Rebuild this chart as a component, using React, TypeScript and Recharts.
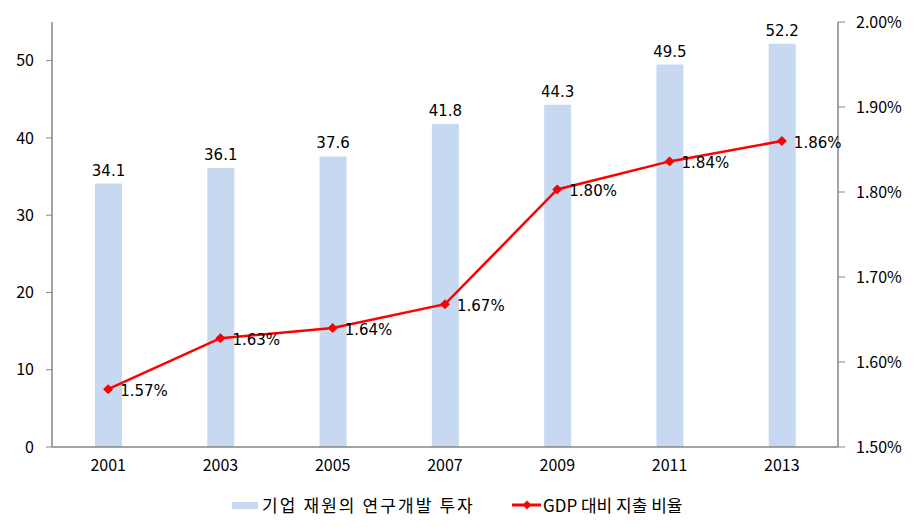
import React from 'react';
import { ComposedChart, Bar, Line, XAxis, YAxis, LabelList } from 'recharts';

const years = ['2001', '2003', '2005', '2007', '2009', '2011', '2013'];
const investment = [34.1, 36.1, 37.6, 41.8, 44.3, 49.5, 52.2];
const gdpRatio = [1.568, 1.628, 1.64, 1.668, 1.803, 1.836, 1.86];
const leftTicks = [0, 10, 20, 30, 40, 50];
const rightTicks = [1.5, 1.6, 1.7, 1.8, 1.9, 2.0];
const barName = '기업 재원의 연구개발 투자';
const lineName = 'GDP 대비 지출 비율';

const data = years.map((y, i) => ({ year: y, inv: investment[i], ratio: gdpRatio[i] }));

const AXIS = '#868686';
const BAR = '#C6D9F1';
const RED = '#FF0000';
const LABEL_FONT = 'DejaVu Sans, Verdana, sans-serif';
const KR_FONT = '"Noto Sans CJK KR", "Noto Sans", sans-serif';

const Diamond = (props: any) => {
  const { cx, cy } = props;
  if (cx == null || cy == null) return null;
  const r = 4.5;
  return (
    <polygon
      points={`${cx},${cy - r} ${cx + r},${cy} ${cx},${cy + r} ${cx - r},${cy}`}
      fill={RED}
      stroke={RED}
    />
  );
};

const LineLabel = (props: any) => {
  const { x, y, value } = props;
  return (
    <text x={x + 12} y={y + 2} fontSize={15} fontFamily={LABEL_FONT} fill="#000" dominantBaseline="central">
      {Number(value).toFixed(2)}%
    </text>
  );
};

const LegendContent = () => (
  <div style={{ position: 'relative', height: 30, fontFamily: KR_FONT, fontSize: 17, color: '#000' }}>
    <div style={{ position: 'absolute', left: 232, top: 10, width: 26, height: 7, background: BAR }} />
    <div style={{ position: 'absolute', left: 262, top: 0, lineHeight: '26px', whiteSpace: 'nowrap', letterSpacing: '2.1px' }}>{barName}</div>
    <svg style={{ position: 'absolute', left: 512, top: 6 }} width={30} height={14}>
      <line x1={0} y1={7} x2={29} y2={7} stroke={RED} strokeWidth={3} />
      <polygon points="15,2.5 19.5,7 15,11.5 10.5,7" fill={RED} />
    </svg>
    <div style={{ position: 'absolute', left: 543, top: 0, lineHeight: '26px', whiteSpace: 'nowrap' }}>{lineName}</div>
  </div>
);

export default function App() {
  return (
    <div style={{ position: 'absolute', left: 0, top: 0, width: 918, height: 527, background: '#fff' }}>
      <ComposedChart width={918} height={527} data={data} margin={{ top: 22, right: 0, bottom: 38, left: 0 }}>
        <XAxis
          dataKey="year"
          axisLine={{ stroke: AXIS, strokeWidth: 1.5 }}
          tickLine={false}
          tickSize={0}
          tickMargin={13}
          height={42}
          tick={{ fontSize: 16, fill: '#000', fontFamily: KR_FONT }}
        />
        <YAxis
          yAxisId="left"
          domain={[0, 55]}
          ticks={leftTicks}
          width={52}
          axisLine={{ stroke: AXIS, strokeWidth: 1.5 }}
          tickLine={{ stroke: AXIS }}
          tickSize={6}
          tickMargin={12}
          tick={{ fontSize: 16, fill: '#000', fontFamily: KR_FONT }}
          interval={0}
        />
        <YAxis
          yAxisId="right"
          orientation="right"
          domain={[1.5, 2.0]}
          ticks={rightTicks}
          width={80}
          axisLine={{ stroke: AXIS, strokeWidth: 1.5 }}
          tickLine={{ stroke: AXIS }}
          tickSize={7}
          tickMargin={11}
          tickFormatter={(v: number) => v.toFixed(2) + '%'}
          tick={{ fontSize: 16, fill: '#000', fontFamily: KR_FONT }}
          interval={0}
        />
        <Bar yAxisId="left" dataKey="inv" name={barName} fill={BAR} barSize={27} isAnimationActive={false}>
          <LabelList dataKey="inv" position="top" offset={8} fontSize={15} fontFamily={LABEL_FONT} fill="#000" />
        </Bar>
        <Line
          yAxisId="right"
          dataKey="ratio"
          name={lineName}
          type="linear"
          stroke={RED}
          strokeWidth={2.5}
          dot={<Diamond />}
          activeDot={false}
          isAnimationActive={false}
        >
          <LabelList dataKey="ratio" content={<LineLabel />} />
        </Line>
        <foreignObject x={0} y={492} width={918} height={30}>
          <LegendContent />
        </foreignObject>
      </ComposedChart>
    </div>
  );
}
